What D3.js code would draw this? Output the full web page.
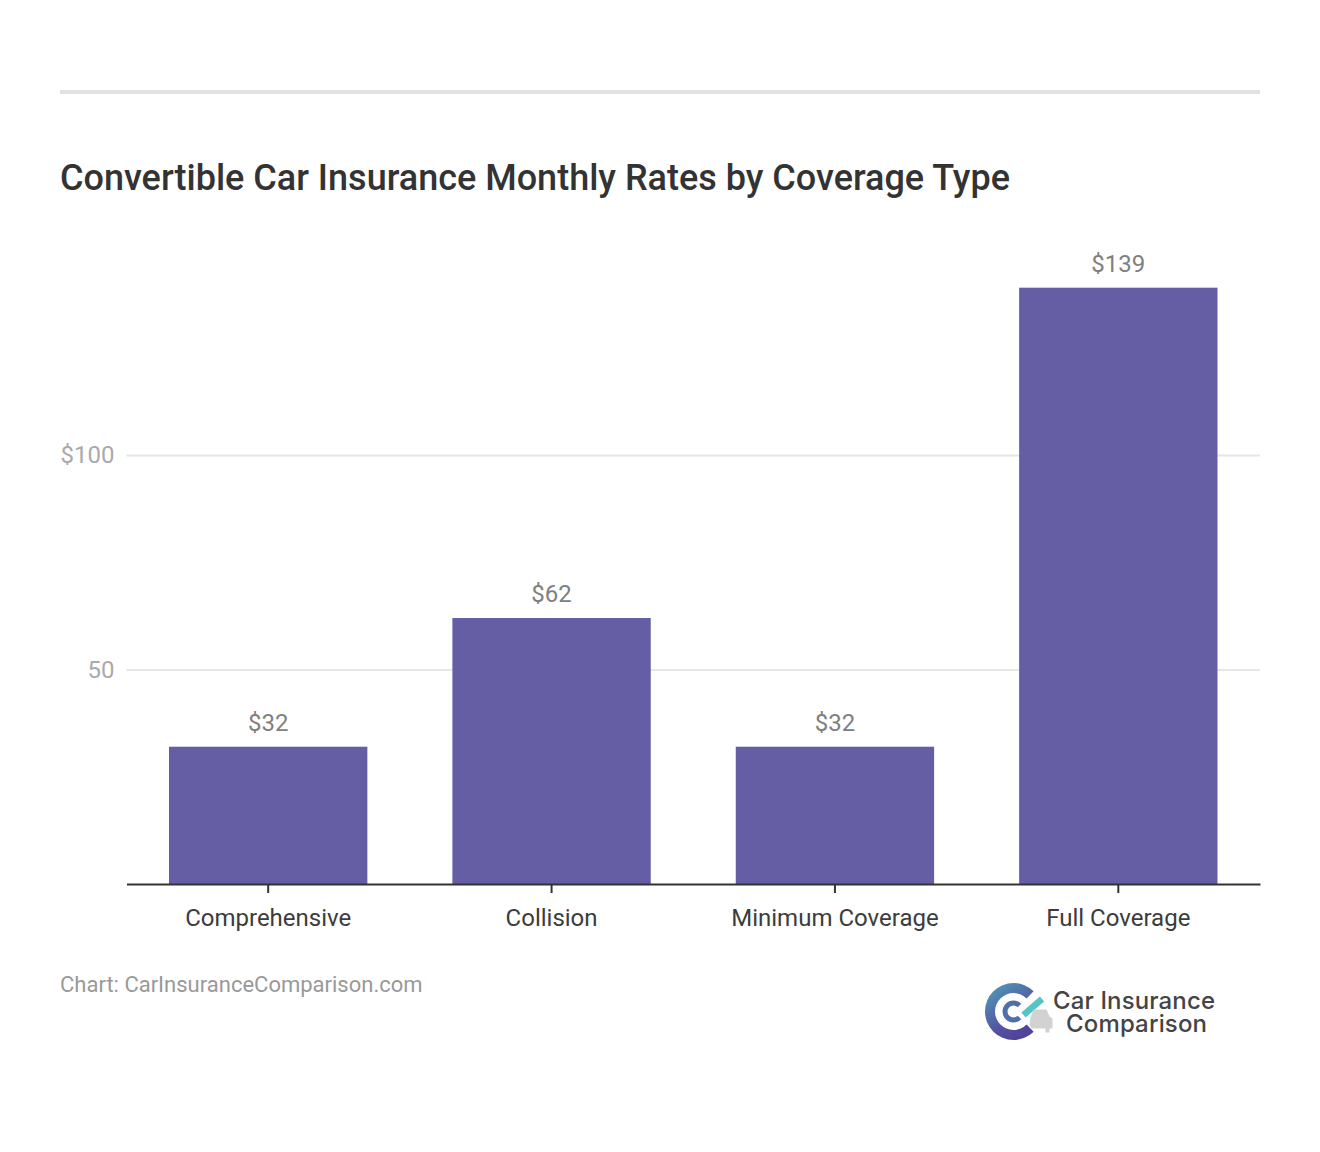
<!DOCTYPE html>
<html>
<head>
<meta charset="utf-8">
<title>Convertible Car Insurance Monthly Rates by Coverage Type</title>
<script src="https://cdn.jsdelivr.net/npm/d3@7"></script>
<style>
  html, body { margin: 0; padding: 0; background: #fff; }
  svg { display: block; font-family: Roboto, sans-serif; }
</style>
</head>
<body>
<svg id="chart" width="1320" height="1152"></svg>
<script>
// chart data
var categories = ["Comprehensive", "Collision", "Minimum Coverage", "Full Coverage"];
var rates = [32, 62, 32, 139];
var yTicks = [50, 100];
var yTickLabels = ["50", "$100"];

var svg = d3.select("#chart");

// top rule and title
svg.append("rect").attr("x", 60).attr("y", 90).attr("width", 1200).attr("height", 4).attr("fill", "#e2e2e2");
svg.append("text").attr("x", 60).attr("y", 190)
  .attr("font-size", 36).attr("font-weight", 500).attr("fill", "#333")
  .text("Convertible Car Insurance Monthly Rates by Coverage Type");

var x = d3.scaleBand().domain(categories).range([126.5, 1260]).paddingInner(0.3).paddingOuter(0.15);
var y = d3.scaleLinear().domain([0, 100]).range([884, 455]);

// gridlines + y labels
svg.append("g").call(d3.axisLeft(y).tickValues(yTicks).tickSize(-1133.5)
    .tickFormat(function(d) { return yTickLabels[yTicks.indexOf(d)]; }))
  .attr("transform", "translate(126.5,0)")
  .call(function(g) {
    g.select(".domain").remove();
    g.selectAll("line").attr("stroke", "#e6e6e6").attr("stroke-width", 2);
    g.selectAll("text").attr("x", -12).attr("font-size", 24).attr("fill", "#aaa")
      .attr("font-family", "Roboto, sans-serif");
  });

// bars
svg.selectAll(".bar").data(rates).enter().append("rect")
  .attr("class", "bar")
  .attr("x", function(d, i) { return x(categories[i]); })
  .attr("y", function(d) { return y(d); })
  .attr("width", x.bandwidth())
  .attr("height", function(d) { return y(0) - y(d); })
  .attr("fill", "#655ea5");

// value labels
svg.selectAll(".val").data(rates).enter().append("text")
  .attr("class", "val")
  .attr("x", function(d, i) { return x(categories[i]) + x.bandwidth() / 2; })
  .attr("y", function(d) { return y(d) - 16; })
  .attr("text-anchor", "middle").attr("font-size", 24).attr("fill", "#808080")
  .text(function(d) { return "$" + d; });

// x axis
svg.append("g").attr("transform", "translate(0,884)")
  .call(d3.axisBottom(x).tickSize(9).tickSizeOuter(0).tickPadding(16))
  .call(function(g) {
    g.select(".domain").attr("stroke", "#333").attr("stroke-width", 2);
    g.selectAll("line").attr("stroke", "#333").attr("stroke-width", 2);
    g.selectAll("text").attr("font-size", 24).attr("fill", "#3c3c3c")
      .attr("font-family", "Roboto, sans-serif");
  });

// source
svg.append("text").attr("x", 60).attr("y", 992).attr("font-size", 22).attr("fill", "#999")
  .text("Chart: CarInsuranceComparison.com");

// logo
var defs = svg.append("defs");
var grad = defs.append("linearGradient").attr("id", "logoGrad")
  .attr("x1", "0").attr("y1", "0").attr("x2", "0.6").attr("y2", "1");
grad.append("stop").attr("offset", "0").attr("stop-color", "#4fa3b8");
grad.append("stop").attr("offset", "0.75").attr("stop-color", "#5350a0");
grad.append("stop").attr("offset", "1").attr("stop-color", "#4f429a");

var logo = svg.append("g").attr("transform", "translate(1013.5,1011.5)");
var arc = d3.arc();
logo.append("path").attr("fill", "url(#logoGrad)")
  .attr("d", arc({ innerRadius: 18.5, outerRadius: 28.5, startAngle: Math.PI * 0.75, endAngle: Math.PI * 2.25 }));
logo.append("path").attr("fill", "#4f6fac")
  .attr("d", arc({ innerRadius: 6, outerRadius: 11, startAngle: Math.PI * 0.75, endAngle: Math.PI * 2.25 }));
logo.append("line").attr("x1", 10).attr("y1", 3.5).attr("x2", 28.5).attr("y2", -12.5)
  .attr("stroke", "#54c4c4").attr("stroke-width", 6.5);
// little car
var car = logo.append("g").attr("fill", "#d2d2d2");
car.append("path").attr("d", "M20,-2 L33,-2 L36,5 L39,7 L39,17 L36,17 L36,21 L32,21 L32,17 L18,17 L16,13 L17,6 Z");

var logoText = svg.append("g").attr("font-family", "Inter, Roboto, sans-serif")
  .attr("font-weight", 500).attr("fill", "#444").attr("font-size", 24);
logoText.append("text").attr("x", 1053).attr("y", 1009).attr("textLength", 162).text("Car Insurance");
logoText.append("text").attr("x", 1066).attr("y", 1032).attr("textLength", 141).text("Comparison");
</script>
</body>
</html>
